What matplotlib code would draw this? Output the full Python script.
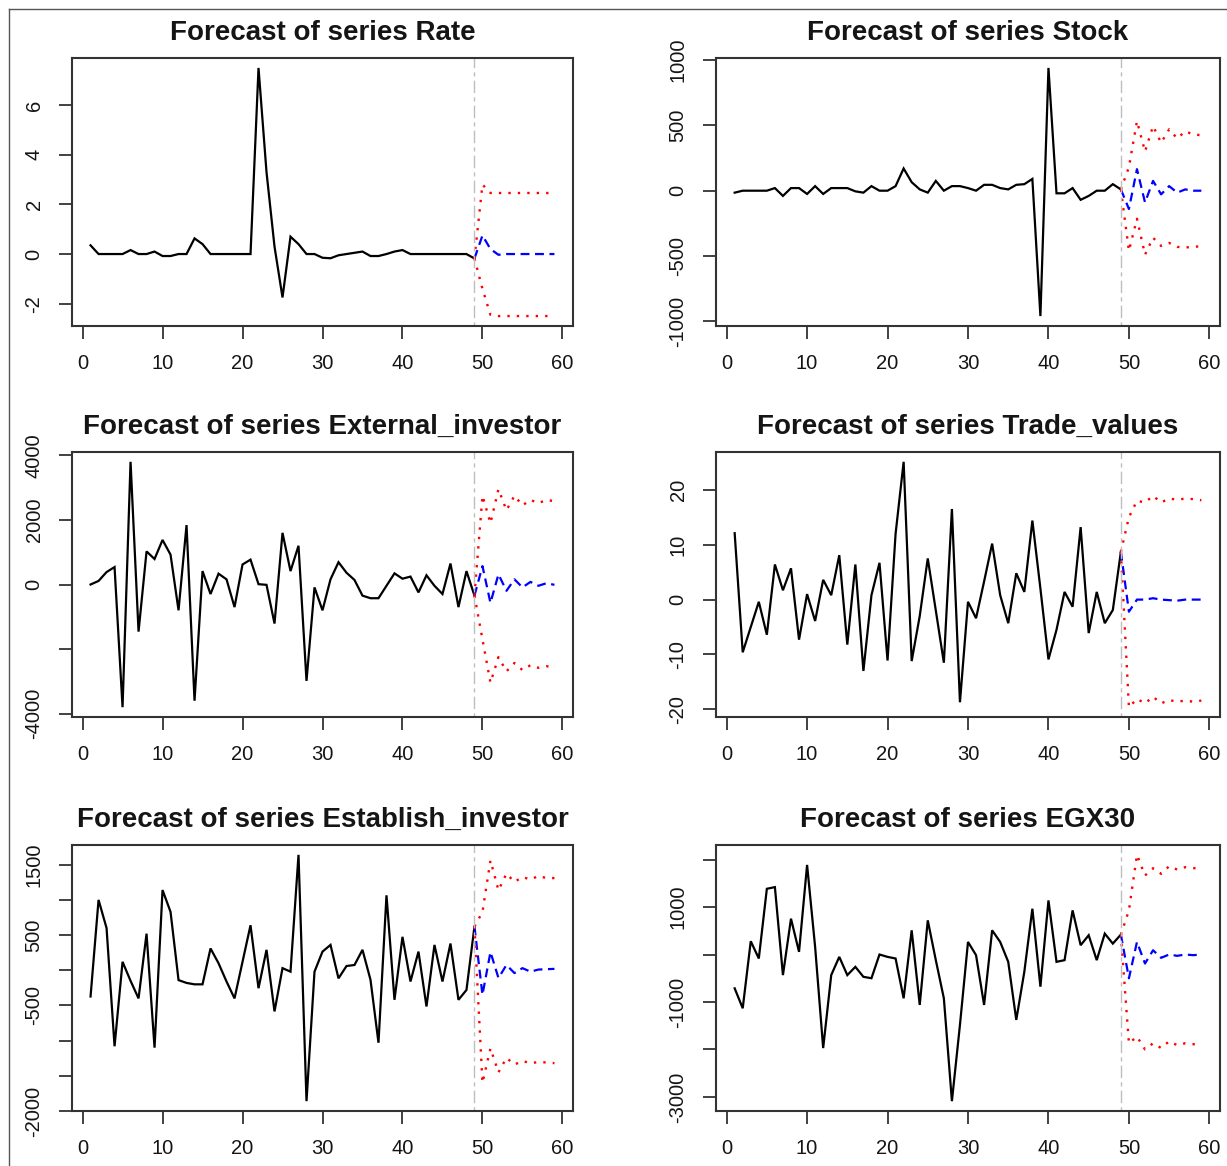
import numpy as np
import matplotlib
matplotlib.use("Agg")
import matplotlib.pyplot as plt
from matplotlib.lines import Line2D

plt.rcParams['font.family'] = ['Liberation Sans', 'DejaVu Sans']

# observed period 1..49, forecast 50..59
t_obs = np.arange(1, 50)
t_fc = np.arange(49, 60)

rate = [0.35, 0, 0, 0, 0, 0.16, 0, 0, 0.1, -0.08, -0.08, 0, 0, 0.63, 0.4, 0, 0, 0, 0, 0,
        0, 7.5, 3.3, 0.3, -1.75, 0.7, 0.4, 0, 0, -0.15, -0.17, -0.05, 0, 0.05, 0.1, -0.08,
        -0.08, 0, 0.1, 0.16, 0, 0, 0, 0, 0, 0, 0, 0, -0.18]
rate_fc = [0.75, 0.2, -0.03, 0, 0, 0, 0, 0, 0, 0]
rate_up = [2.8, 2.46, 2.46, 2.46, 2.46, 2.46, 2.46, 2.46, 2.46, 2.46]
rate_lo = [-1.4, -2.45, -2.5, -2.5, -2.5, -2.5, -2.5, -2.5, -2.5, -2.5]

stock = [-15, 0, 0, 0, 0, 20, -40, 20, 20, -25, 35, -25, 20, 20, 20, -5, -15, 35, 0, 0,
         35, 170, 65, 10, -15, 75, 0, 35, 35, 20, 0, 45, 45, 20, 10, 45, 50, 90, -960, 940,
         -20, -20, 20, -70, -40, 0, 0, 50, 10]
stock_fc = [-140, 165, -90, 75, -28, 35, -15, 10, 0, 0]
stock_up = [180, 533, 300, 495, 367, 470, 400, 455, 430, 425]
stock_lo = [-460, -215, -490, -360, -423, -400, -430, -435, -430, -425]

ext = [0, 110, 385, 540, -3800, 3800, -1460, 1025, 790, 1380, 925, -800, 1840, -3600, 415,
       -295, 335, 160, -700, 620, 770, 10, -10, -1210, 1600, 415, 1200, -2985, -90, -800,
       160, 690, 365, 140, -345, -425, -425, -40, 345, 180, 245, -245, 285, -40, -295, 650,
       -700, 415, -345]
ext_fc = [570, -570, 315, -195, 160, -90, 80, -40, 40, -10]
ext_up = [2750, 1900, 2950, 2300, 2750, 2450, 2620, 2520, 2620, 2580]
ext_lo = [-1700, -3040, -2250, -2690, -2430, -2650, -2500, -2580, -2530, -2580]

trade = [12.1, -9.6, -5, -0.4, -6.4, 6.4, 1.7, 5.7, -7.3, 1.0, -3.9, 3.6, 0.8, 8.1, -8.2,
         6.4, -13, 0.8, 6.7, -11.1, 12, 25.1, -11.2, -3, 7.5, -2, -11.5, 16.5, -18.7, -0.4,
         -3.4, 3.3, 10.2, 0.8, -4.3, 4.8, 1.4, 14.4, 2, -10.9, -5.5, 1.4, -1.3, 13.2, -6.1,
         1.4, -4.3, -1.9, 8.7]
trade_fc = [-2.2, 0, 0, 0.25, 0, -0.1, -0.2, 0, 0, 0]
trade_up = [15, 18, 17.7, 18.9, 17.7, 18.4, 18.2, 18.4, 18.3, 18.1]
trade_lo = [-19.6, -18.1, -18.9, -17.7, -18.9, -18.3, -18.6, -18.4, -18.6, -18.4]

estab = [-373, 1000, 600, -1080, 120, -150, -400, 520, -1100, 1140, 830, -140, -180, -200,
         -200, 310, 100, -160, -400, 120, 640, -255, 290, -585, 30, -20, 1640, -1860, -20,
         265, 360, -115, 60, 75, 290, -135, -1030, 1065, -420, 475, -160, 265, -515, 360,
         -160, 380, -420, -280, 620]
estab_fc = [-350, 260, -110, 75, -40, 30, -20, 10, 15, 20]
estab_up = [830, 1560, 1137, 1373, 1255, 1325, 1290, 1340, 1310, 1310]
estab_lo = [-1600, -1110, -1450, -1245, -1340, -1290, -1320, -1305, -1310, -1320]

egx = [-713, -1133, 280, -84, 1385, 1420, -434, 755, 56, 1888, 160, -1972, -434, -50, -434,
       -260, -470, -500, 0, -50, -84, -923, 510, -1063, 720, -119, -923, -3090, -1483, 265,
       -14, -1063, 510, 265, -154, -1378, -364, 965, -678, 1140, -154, -119, 930, 196, 406,
       -119, 440, 230, 420]
egx_fc = [-500, 265, -190, 90, -70, 0, -28, 0, -14, 0]
egx_up = [930, 2100, 1665, 1818, 1700, 1860, 1790, 1840, 1820, 1820]
egx_lo = [-1870, -1730, -2000, -1870, -1970, -1830, -1910, -1870, -1890, -1880]

names = ["Rate", "Stock", "External_investor", "Trade_values", "Establish_investor", "EGX30"]
series = [rate, stock, ext, trade, estab, egx]
fcst = [rate_fc, stock_fc, ext_fc, trade_fc, estab_fc, egx_fc]
upper = [rate_up, stock_up, ext_up, trade_up, estab_up, egx_up]
lower = [rate_lo, stock_lo, ext_lo, trade_lo, estab_lo, egx_lo]
yticks = [[-2, 0, 2, 4, 6],
          [-1000, -500, 0, 500, 1000],
          [-4000, -2000, 0, 2000, 4000],
          [-20, -10, 0, 10, 20],
          [-2000, -1500, -1000, -500, 0, 500, 1000, 1500],
          [-3000, -2000, -1000, 0, 1000, 2000]]
ylabels = [["-2", "0", "2", "4", "6"],
           ["-1000", "-500", "0", "500", "1000"],
           ["-4000", "", "0", "2000", "4000"],
           ["-20", "-10", "0", "10", "20"],
           ["-2000", "", "", "-500", "", "500", "", "1500"],
           ["-3000", "", "-1000", "", "1000", ""]]
xticks = [0, 10, 20, 30, 40, 50, 60]

W, H = 1227, 1166
fig = plt.figure(figsize=(W / 100, H / 100), dpi=100)

# axes boxes in pixels: (left, top, right, bottom)
boxes = [(72, 58, 573, 326), (716, 58, 1220, 326),
         (72, 452, 573, 717), (716, 452, 1220, 717),
         (72, 845, 573, 1111), (716, 845, 1220, 1111)]

TXT = "#151515"
for i in range(6):
    l, tp, r, b = boxes[i]
    ax = fig.add_axes([l / W, 1 - b / H, (r - l) / W, (b - tp) / H])
    y = series[i]
    last = y[-1]
    ax.plot(t_obs, y, color="black", lw=1.6, solid_joinstyle="miter")
    ax.plot(t_fc, [last] + fcst[i], color="blue", lw=1.6, dashes=(4, 2.5))
    ax.plot(t_fc, [last] + upper[i], color="red", lw=1.7, dashes=(1, 3))
    ax.plot(t_fc, [last] + lower[i], color="red", lw=1.7, dashes=(1, 3))
    ax.axvline(49, color="#bebebe", lw=1.0, dashes=(3, 3, 9, 3))

    allv = y + fcst[i] + upper[i] + lower[i]
    lo, hi = min(allv), max(allv)
    pad = 0.04 * (hi - lo)
    ax.set_ylim(lo - pad, hi + pad)
    ax.set_xlim(1 - 0.04 * 58, 59 + 0.04 * 58)

    ax.set_xticks(xticks)
    ax.set_xticklabels([str(v) for v in xticks])
    ax.set_yticks(yticks[i])
    ax.set_yticklabels(ylabels[i], rotation=90, va="center", ha="right")
    ax.tick_params(direction="out", length=9.5, width=1.3, labelsize=14.5,
                   labelcolor=TXT, color="#333333")
    ax.tick_params(axis="x", pad=11)
    ax.tick_params(axis="y", pad=11)
    for sp in ax.spines.values():
        sp.set_linewidth(1.5)
        sp.set_color("#333333")

    ax.set_title("Forecast of series " + names[i], fontsize=20, fontweight="bold",
                 color=TXT, pad=13)

# thin frame around the page (top and left edges)
fig.add_artist(Line2D([9 / W, 9 / W], [0, 1 - 9 / H], color="#555555", lw=1.0))
fig.add_artist(Line2D([9 / W, 1], [1 - 9 / H, 1 - 9 / H], color="#555555", lw=1.0))

fig.savefig("out.png", dpi=100)
